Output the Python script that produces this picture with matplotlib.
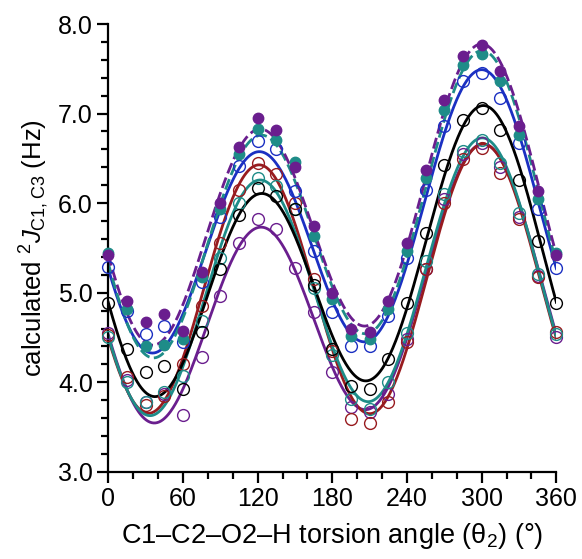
import numpy as np
import matplotlib
matplotlib.use("Agg")
import matplotlib.pyplot as plt
from matplotlib.ticker import MultipleLocator, FormatStrFormatter

plt.rcParams['font.family'] = ['Liberation Sans', 'DejaVu Sans']
plt.rcParams['mathtext.fontset'] = 'custom'
plt.rcParams['mathtext.rm'] = 'Liberation Sans'
plt.rcParams['mathtext.it'] = 'Liberation Sans:italic'

angles = np.arange(0, 361, 15)

purple_filled = [5.42, 4.91, 4.67, 4.76, 4.57, 5.23, 6.00, 6.63, 6.95, 6.82, 6.40, 5.74, 5.00,
                 4.59, 4.56, 4.91, 5.56, 6.37, 7.15, 7.64, 7.77, 7.47, 6.86, 6.13, 5.42]
teal_filled = [5.44, 4.82, 4.41, 4.42, 4.48, 5.17, 5.93, 6.55, 6.83, 6.71, 6.46, 5.63, 4.93,
               4.52, 4.48, 4.82, 5.46, 6.28, 7.04, 7.54, 7.67, 7.36, 6.76, 6.05, 5.44]
blue_open = [5.29, 4.80, 4.54, 4.63, 4.45, 5.12, 5.84, 6.41, 6.69, 6.60, 6.13, 5.46, 4.78,
             4.41, 4.41, 4.74, 5.39, 6.15, 6.86, 7.36, 7.45, 7.17, 6.67, 5.93, 5.28]
black_open = [4.89, 4.37, 4.11, 4.18, 3.92, 4.56, 5.26, 5.87, 6.17, 6.08, 5.93, 5.09, 4.37,
              3.96, 3.92, 4.26, 4.89, 5.67, 6.43, 6.93, 7.06, 6.82, 6.26, 5.58, 4.89]
red_open = [4.53, 4.06, 3.75, 3.85, 4.20, 4.85, 5.56, 6.15, 6.45, 6.32, 6.00, 5.15, 4.35,
            3.59, 3.55, 3.78, 4.45, 5.26, 6.00, 6.49, 6.62, 6.34, 5.82, 5.17, 4.56]
teal_open = [4.50, 4.00, 3.78, 3.89, 4.07, 4.68, 5.39, 6.00, 6.28, 6.19, 5.93, 5.05, 4.30,
             3.81, 3.70, 4.00, 4.55, 5.35, 6.10, 6.58, 6.71, 6.45, 5.89, 5.21, 4.54]
purple_open = [4.55, 4.03, 3.78, 3.87, 3.63, 4.28, 4.96, 5.56, 5.82, 5.71, 5.28, 4.78, 4.11,
               3.72, 3.67, 3.87, 4.48, 5.26, 6.05, 6.55, 6.67, 6.40, 5.85, 5.19, 4.50]

x_ticks = [0, 60, 120, 180, 240, 300, 360]

PURPLE = '#6A1E8E'
TEAL = '#1E8C88'
BLUE = '#1B30C2'
RED = '#981B1F'
BLACK = '#000000'

series = [
    (purple_open, PURPLE, False, '-'),
    (red_open, RED, False, '-'),
    (teal_open, TEAL, False, '-'),
    (black_open, BLACK, False, '-'),
    (blue_open, BLUE, False, '-'),
    (teal_filled, TEAL, True, (0, (4, 1.6))),
    (purple_filled, PURPLE, True, (0, (4, 1.6))),
]


def fourier_fit(theta_deg, values, grid_deg):
    t = np.radians(theta_deg)
    A = np.column_stack([np.ones_like(t), np.cos(t), np.sin(t), np.cos(2 * t), np.sin(2 * t)])
    coef, *_ = np.linalg.lstsq(A, np.asarray(values), rcond=None)
    g = np.radians(grid_deg)
    G = np.column_stack([np.ones_like(g), np.cos(g), np.sin(g), np.cos(2 * g), np.sin(2 * g)])
    return G @ coef


fig = plt.figure(figsize=(5.82, 5.59), dpi=100)
ax = fig.add_axes([0.186, 0.156, 0.770, 0.801])

grid = np.linspace(0, 360, 721)
for vals, col, filled, ls in series:
    ax.plot(grid, fourier_fit(angles, vals, grid), color=col, lw=2.0, ls=ls, zorder=2)
for vals, col, filled, ls in series:
    if filled:
        ax.plot(angles, vals, 'o', ms=7.5, mfc=col, mec=col, mew=1.0, zorder=4, clip_on=False)
    else:
        ax.plot(angles, vals, 'o', ms=8.5, mfc='none', mec=col, mew=1.0, zorder=3, clip_on=False)

ax.set_xlim(0, 360)
ax.set_ylim(3.0, 8.0)
ax.set_xticks(x_ticks)
ax.xaxis.set_minor_locator(MultipleLocator(20))
ax.yaxis.set_major_locator(MultipleLocator(1.0))
ax.yaxis.set_minor_locator(MultipleLocator(0.2))
ax.yaxis.set_major_formatter(FormatStrFormatter('%.1f'))

for s in ['top', 'right']:
    ax.spines[s].set_visible(False)
for s in ['left', 'bottom']:
    ax.spines[s].set_linewidth(1.6)

ax.tick_params(which='major', length=8, width=1.6, labelsize=18, pad=3)
ax.tick_params(which='minor', length=5, width=1.6)

ax.set_xlabel(r"C1–C2–O2–H torsion angle (θ$_{2}$) (°)", fontsize=19.5, labelpad=7)
ax.set_ylabel(r"calculated $^{2}J_{\mathrm{C1,C3}}$ (Hz)", fontsize=18.5, labelpad=5)

fig.savefig('out.png', dpi=100)
